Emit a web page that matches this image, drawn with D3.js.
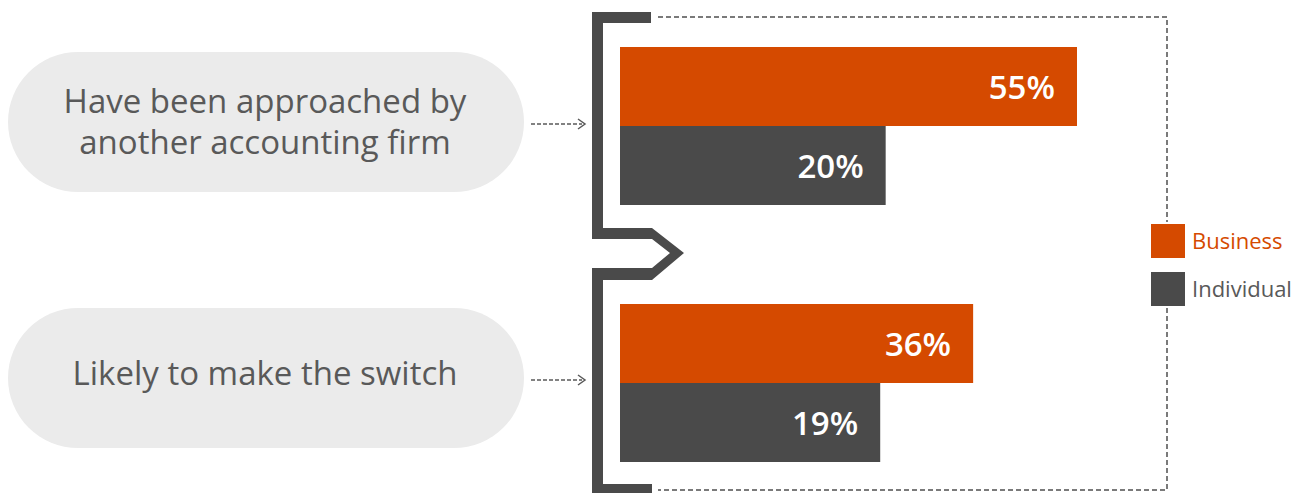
<!DOCTYPE html>
<html><head><meta charset="utf-8">
<script src="https://cdn.jsdelivr.net/npm/d3@7"></script>
<style>body{margin:0;background:#fff}svg{display:block}</style>
</head><body>
<svg id="c" width="1309" height="493"></svg>
<script>
const categories = [["Have been approached by","another accounting firm"],["Likely to make the switch"]];
const seriesNames = ["Business","Individual"];
const business = [55, 36];
const individual = [20, 19];
const colors = ["#d54a00","#4a4a4a"];

const svg = d3.select("#c");
const font = "'Open Sans', 'Noto Sans', sans-serif";

// bar scale (value -> x)
const x = d3.scaleLinear().domain([-28.6, 55]).range([620, 1077]);
const groupTops = [47, 304];
const barH = 79;

// dashed frame
svg.append("path").attr("fill","none").attr("stroke","#7a7a7a").attr("stroke-width",2).attr("stroke-dasharray","5,3")
  .attr("d", d3.line()([[658,17],[1167,17],[1167,490],[658,490]]));

// legend background
svg.append("rect").attr("x",1148).attr("y",222).attr("width",160).attr("height",86).attr("fill","#fff");

// bracket shapes
const g = svg.append("g").attr("fill","#4a4a4a");
g.append("path").attr("d", d3.line()([[592,12],[651,12],[651,23],[603,23],[603,228],[592,228]]) + "Z");
g.append("path").attr("d", d3.line()([[592,228],[652,228],[684,253],[652,280],[592,280],[592,268],[652,268],[670,253],[652,239],[592,239]]) + "Z");
g.append("path").attr("d", d3.line()([[592,268],[603,268],[603,484],[652,484],[652,493],[592,493]]) + "Z");

// pills
const pillY = [52, 308];
const arrowY = [124, 380];
categories.forEach((lines,i)=>{
  svg.append("rect").attr("x",8).attr("y",pillY[i]).attr("width",516).attr("height",140).attr("rx",70).attr("fill","#ebebeb");
  const cy = pillY[i] + 70;
  const lh = 41;
  lines.forEach((t,j)=>{
    svg.append("text").attr("x",265).attr("y", cy + (j - (lines.length-1)/2)*lh + (lines.length>1 ? 11 : 7))
      .attr("text-anchor","middle").attr("font-family",font).attr("font-size",33).attr("fill","#595959").text(t);
  });
  const ay = arrowY[i];
  svg.append("line").attr("x1",531).attr("x2",582).attr("y1",ay).attr("y2",ay)
    .attr("stroke","#595959").attr("stroke-width",1.5).attr("stroke-dasharray","4,2");
  svg.append("path").attr("d", d3.line()([[578,ay-5],[585,ay],[578,ay+5]])).attr("fill","none").attr("stroke","#595959").attr("stroke-width",1.5);
});

// bars
[business, individual].forEach((vals, s)=>{
  vals.forEach((v,i)=>{
    const y0 = groupTops[i] + s*barH;
    svg.append("rect").attr("x", x(-28.6)).attr("y", y0).attr("width", x(v)-x(-28.6)).attr("height", barH).attr("fill", colors[s]);
    svg.append("text").attr("x", x(v) - 22).attr("y", y0 + barH/2 + 12).attr("text-anchor","end")
      .attr("font-family",font).attr("font-weight",600).attr("font-size",33).attr("fill","#fff").text(v + "%");
  });
});

// legend
seriesNames.forEach((n,i)=>{
  const ly = 224 + i*48;
  svg.append("rect").attr("x",1151).attr("y",ly).attr("width",34).attr("height",34).attr("fill",colors[i]);
  svg.append("text").attr("x",1192).attr("y",ly+25).attr("font-family",font).attr("font-size",22)
    .attr("fill", i===0 ? "#d54a00" : "#595959").text(n);
});
</script>
</body></html>
